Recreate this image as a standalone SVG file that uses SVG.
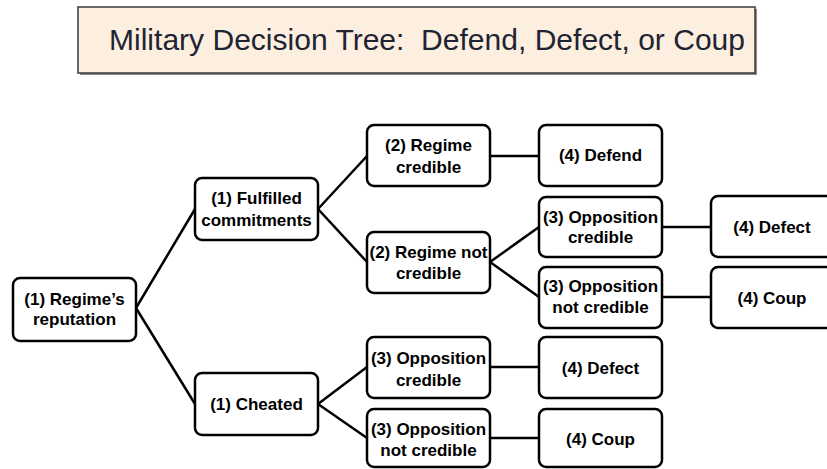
<svg xmlns="http://www.w3.org/2000/svg" width="827" height="469" viewBox="0 0 827 469">
  <style>
    .box { fill: #ffffff; stroke: #000000; stroke-width: 2.5; }
    .lbl { font-family: "Liberation Sans", Arial, sans-serif; font-weight: bold; font-size: 17px; fill: #000000; text-anchor: middle; }
    .wire { stroke: #000000; stroke-width: 2.5; fill: none; stroke-linecap: round; }
    .title { font-family: "Liberation Sans", Arial, sans-serif; font-size: 30px; fill: #1f2433; white-space: pre; }
  </style>
  <rect width="827" height="469" fill="#ffffff"/>

  <!-- title banner -->
  <g id="title">
    <rect x="80" y="9" width="677" height="66" fill="#8a8a8a"/>
    <rect x="78" y="7" width="677" height="66" fill="#fdefdf" stroke="#3a3a3a" stroke-width="1.5"/>
    <text class="title" x="109" y="50" xml:space="preserve" textLength="636" lengthAdjust="spacingAndGlyphs">Military Decision Tree:  Defend, Defect, or Coup</text>
  </g>

  <!-- connectors -->
  <g id="connectors">
    <line class="wire" x1="136" y1="308" x2="195" y2="209"/>
    <line class="wire" x1="136" y1="308" x2="195" y2="404"/>
    <line class="wire" x1="318" y1="209" x2="367" y2="156"/>
    <line class="wire" x1="318" y1="209" x2="367" y2="262"/>
    <line class="wire" x1="490" y1="156" x2="539" y2="156"/>
    <line class="wire" x1="490" y1="262" x2="539" y2="227"/>
    <line class="wire" x1="490" y1="262" x2="539" y2="297"/>
    <line class="wire" x1="662" y1="227" x2="711" y2="227"/>
    <line class="wire" x1="662" y1="297" x2="711" y2="297"/>
    <line class="wire" x1="318" y1="404" x2="367" y2="367"/>
    <line class="wire" x1="318" y1="404" x2="367" y2="438"/>
    <line class="wire" x1="490" y1="367" x2="539" y2="367"/>
    <line class="wire" x1="490" y1="438" x2="539" y2="438"/>
  </g>

  <!-- nodes -->
  <g id="regime-reputation">
    <rect class="box" x="13" y="278" width="123" height="63" rx="7"/>
    <text class="lbl" x="74.5" y="305">(1) Regime’s</text>
    <text class="lbl" x="74.5" y="325">reputation</text>
  </g>
  <g id="fulfilled">
    <rect class="box" x="195" y="178" width="123" height="62" rx="7"/>
    <text class="lbl" x="256.5" y="204">(1) Fulfilled</text>
    <text class="lbl" x="256.5" y="226">commitments</text>
  </g>
  <g id="cheated">
    <rect class="box" x="195" y="373" width="123" height="62" rx="7"/>
    <text class="lbl" x="256.5" y="410">(1) Cheated</text>
  </g>
  <g id="regime-credible">
    <rect class="box" x="367" y="125" width="123" height="61" rx="7"/>
    <text class="lbl" x="428.5" y="151">(2) Regime</text>
    <text class="lbl" x="428.5" y="173">credible</text>
  </g>
  <g id="defend">
    <rect class="box" x="539" y="125" width="123" height="61" rx="7"/>
    <text class="lbl" x="600.5" y="161">(4) Defend</text>
  </g>
  <g id="regime-not-credible">
    <rect class="box" x="367" y="232" width="123" height="61" rx="7"/>
    <text class="lbl" x="428.5" y="258">(2) Regime not</text>
    <text class="lbl" x="428.5" y="279">credible</text>
  </g>
  <g id="opp-credible-a">
    <rect class="box" x="539" y="197" width="123" height="60" rx="7"/>
    <text class="lbl" x="600.5" y="223">(3) Opposition</text>
    <text class="lbl" x="600.5" y="243">credible</text>
  </g>
  <g id="opp-not-credible-a">
    <rect class="box" x="539" y="267" width="123" height="61" rx="7"/>
    <text class="lbl" x="600.5" y="292">(3) Opposition</text>
    <text class="lbl" x="600.5" y="313">not credible</text>
  </g>
  <g id="defect-a">
    <rect class="box" x="711" y="196" width="125" height="61" rx="7"/>
    <text class="lbl" x="772" y="233">(4) Defect</text>
  </g>
  <g id="coup-a">
    <rect class="box" x="711" y="267" width="125" height="61" rx="7"/>
    <text class="lbl" x="772" y="304">(4) Coup</text>
  </g>
  <g id="opp-credible-b">
    <rect class="box" x="367" y="337" width="123" height="61" rx="7"/>
    <text class="lbl" x="428.5" y="364">(3) Opposition</text>
    <text class="lbl" x="428.5" y="386">credible</text>
  </g>
  <g id="defect-b">
    <rect class="box" x="539" y="337" width="123" height="61" rx="7"/>
    <text class="lbl" x="600.5" y="374">(4) Defect</text>
  </g>
  <g id="opp-not-credible-b">
    <rect class="box" x="367" y="409" width="123" height="58" rx="7"/>
    <text class="lbl" x="428.5" y="435">(3) Opposition</text>
    <text class="lbl" x="428.5" y="456">not credible</text>
  </g>
  <g id="coup-b">
    <rect class="box" x="539" y="409" width="123" height="58" rx="7"/>
    <text class="lbl" x="600.5" y="445">(4) Coup</text>
  </g>
</svg>
